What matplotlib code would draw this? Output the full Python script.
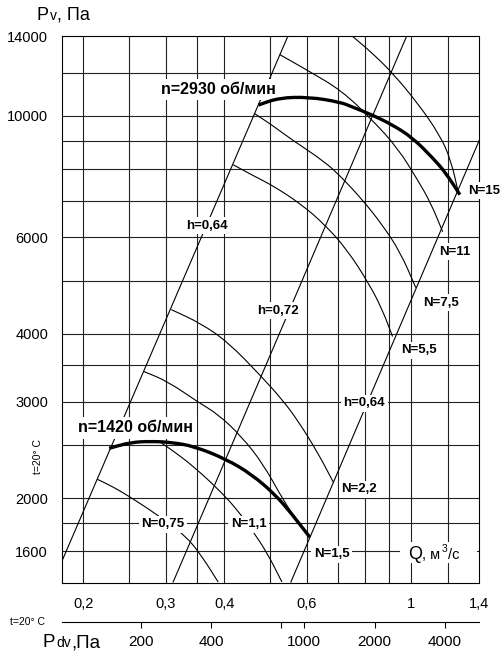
import numpy as np
import matplotlib
matplotlib.use('Agg')
import matplotlib.pyplot as plt
from matplotlib.patches import Rectangle, PathPatch
from matplotlib.path import Path
from matplotlib.ticker import NullLocator

plt.rcParams['font.family'] = ['Liberation Sans', 'DejaVu Sans']

# --- fan curves (Q in m3/s, Pv in Pa) ---
q_2930 = [0.473, 0.523, 0.606, 0.707, 0.750, 0.828, 0.915, 1.010, 1.115, 1.189, 1.274]
p_2930 = [10470, 10790, 10830, 10600, 10390, 10040, 9630, 9120, 8380, 7870, 7180]

q_1420 = [0.227, 0.252, 0.279, 0.308, 0.345, 0.404, 0.457, 0.513, 0.558, 0.609]
p_1420 = [2468, 2531, 2542, 2531, 2489, 2357, 2213, 2034, 1870, 1698]

# efficiency rays h
h_left_q, h_left_p = [0.18, 0.547], [1536, 14000]
h_mid_q, h_mid_p = [0.311, 0.981], [1406, 14000]
h_right_q, h_right_p = [0.555, 1.4], [1406, 9003]

# power lines N, kW
n075_q = [0.214, 0.232, 0.252, 0.276, 0.300, 0.331, 0.357, 0.388]
n075_p = [2167, 2096, 2009, 1910, 1816, 1705, 1574, 1406]
n11_q = [0.290, 0.323, 0.357, 0.394, 0.425, 0.457, 0.493, 0.531]
n11_p = [2542, 2386, 2222, 2051, 1910, 1756, 1594, 1406]
n15_q = [0.269, 0.303, 0.352, 0.388, 0.435, 0.485, 0.536, 0.574, 0.609]
n15_p = [3411, 3270, 2995, 2848, 2596, 2307, 1975, 1816, 1698]
n22_q = [0.308, 0.357, 0.408, 0.480, 0.531, 0.572, 0.631, 0.684]
n22_p = [4426, 4173, 3853, 3340, 3033, 2788, 2438, 2139]
n55_q = [0.418, 0.462, 0.513, 0.586, 0.656, 0.732, 0.817, 0.870, 0.915]
n55_p = [8140, 7771, 7420, 6879, 6325, 5694, 4916, 4426, 3952]
n75_q = [0.464, 0.505, 0.558, 0.656, 0.714, 0.789, 0.870, 0.952, 1.026]
n75_p = [10100, 9630, 9042, 8244, 7706, 7025, 6325, 5623, 4853]
n110_q = [0.525, 0.606, 0.714, 0.828, 0.938, 1.035, 1.104, 1.171]
n110_p = [12950, 12080, 11110, 9833, 8743, 7642, 6937, 6140]
n150_q = [0.750, 0.828, 0.915, 1.035, 1.154, 1.219, 1.268]
n150_p = [14000, 13030, 11980, 10560, 9234, 8312, 7176]

# grid and ticks
q_grid = [0.2, 0.25, 0.3, 0.35, 0.4, 0.5, 0.6, 0.7, 0.8, 0.9, 1.0, 1.2]
p_grid = [1600, 1800, 2000, 2500, 3000, 3500, 4000, 5000, 6000, 7000, 8000, 9000, 10000, 12000]
q_ticks = [0.2, 0.3, 0.4, 0.6, 1.0, 1.4]
q_labels = ['0,2', '0,3', '0,4', '0,6', '1', '1,4']
p_ticks = [1600, 2000, 3000, 4000, 6000, 10000, 14000]
p_labels = ['1600', '2000', '3000', '4000', '6000', '10000', '14000']
pdv_ticks = [200, 400, 800, 1000, 2000, 4000]
pdv_labels = ['200', '400', '', '1000', '2000', '4000']
k_dyn = 2850  # Pdv = k * Q^2

# labels: text, Q, P
curve_labels = [
    ('h=0,64', 0.3676, 6220),
    ('h=0,72', 0.520, 4352),
    ('h=0,64', 0.796, 2944),
    ('N=0,75', 0.2958, 1771),
    ('N=1,1', 0.4506, 1771),
    ('N=1,5', 0.679, 1561),
    ('N=2,2', 0.777, 2051),
    ('N=5,5', 1.04, 3679),
    ('N=7,5', 1.16, 4501),
    ('N=11', 1.244, 5577),
    ('N=15', 1.436, 7207),
]


def smooth_curve(ax, q, p, lw, z):
    # quadratic bezier through the read points (corners rounded off on the log axes)
    q = np.asarray(q, float)
    p = np.asarray(p, float)
    mq = np.sqrt(q[:-1] * q[1:])
    mp = np.sqrt(p[:-1] * p[1:])
    verts = [(q[0], p[0]), (mq[0], mp[0])]
    codes = [Path.MOVETO, Path.LINETO]
    for i in range(1, len(q) - 1):
        verts += [(q[i], p[i]), (mq[i], mp[i])]
        codes += [Path.CURVE3, Path.CURVE3]
    verts.append((q[-1], p[-1]))
    codes.append(Path.LINETO)
    ax.add_patch(PathPatch(Path(verts, codes), fc='none', ec='black', lw=lw,
                           zorder=z, capstyle='butt'))


fig = plt.figure(figsize=(5, 6.51), dpi=100)
ax = fig.add_axes([62 / 500, 1 - 583 / 651, 417 / 500, 547 / 651])
ax.set_xscale('log')
ax.set_yscale('log')
ax.set_xlim(0.18, 1.4)
ax.set_ylim(1400, 14000)

for q in q_grid:
    ax.axvline(q, color='#222222', lw=0.8, zorder=1)
for p in p_grid:
    ax.axhline(p, color='#222222', lw=0.8, zorder=1)

for qq, pp in [(h_left_q, h_left_p), (h_mid_q, h_mid_p), (h_right_q, h_right_p)]:
    ax.plot(qq, pp, color='black', lw=0.8, zorder=2)
for qq, pp in [(n075_q, n075_p), (n11_q, n11_p), (n15_q, n15_p), (n22_q, n22_p),
               (n55_q, n55_p), (n75_q, n75_p), (n110_q, n110_p), (n150_q, n150_p)]:
    smooth_curve(ax, qq, pp, 0.8, 2)

smooth_curve(ax, q_2930, p_2930, 2.4, 5)
smooth_curve(ax, q_1420, p_1420, 2.4, 5)

box = dict(boxstyle='square,pad=0.2', fc='white', ec='none')
for txt, q, p in curve_labels:
    ax.text(q, p, txt, ha='center', va='baseline', fontsize=9.5, fontweight='bold',
            bbox=box, zorder=4)
ax.text(0.388, 10970, 'n=2930 об/мин', ha='center', va='baseline', fontsize=11.5,
        fontweight='bold', bbox=box, zorder=4)
ax.text(0.2588, 2640, 'n=1420 об/мин', ha='center', va='baseline', fontsize=11.5,
        fontweight='bold', bbox=box, zorder=4)

# white patch behind the Q axis title
ax.add_patch(Rectangle(((400 - 62) / 417, 20 / 547), 77 / 417, 21 / 547,
                       transform=ax.transAxes, fc='white', ec='none', zorder=2.2))

ax.set_xticks(q_ticks)
ax.set_xticklabels(q_labels)
ax.set_yticks(p_ticks)
ax.set_yticklabels(p_labels)
ax.xaxis.set_minor_locator(NullLocator())
ax.yaxis.set_minor_locator(NullLocator())
ax.tick_params(axis='x', length=0, pad=10, labelsize=10.5)
ax.tick_params(axis='y', length=0, pad=10, labelsize=10.5)
for s in ax.spines.values():
    s.set_linewidth(0.8)

# dynamic pressure scale below
sec = ax.secondary_xaxis((583 - 622) / 547,
                         functions=(lambda q: k_dyn * np.asarray(q) ** 2,
                                    lambda p: np.sqrt(np.maximum(np.asarray(p), 1e-9) / k_dyn)))
sec.set_xticks(pdv_ticks)
sec.set_xticklabels(pdv_labels)
sec.xaxis.set_minor_locator(NullLocator())
sec.tick_params(axis='x', direction='out', length=4.5, width=0.8, pad=5, labelsize=11)
sec.spines['bottom'].set_linewidth(0.8)

# axis titles
fig.text(37 / 500, 1 - 20 / 651, 'P', fontsize=13, va='baseline')
fig.text(50 / 500, 1 - 20 / 651, 'v', fontsize=10, va='baseline')
fig.text(57 / 500, 1 - 20 / 651, ', Па', fontsize=13, va='baseline')

fig.text(43 / 500, 1 - 647 / 651, 'P', fontsize=13.5, va='baseline')
fig.text(56 / 500, 1 - 647 / 651, 'dv', fontsize=10, va='baseline')
fig.text(71 / 500, 1 - 647 / 651, ',Па', fontsize=13.5, va='baseline')

fig.text(408 / 500, 1 - 559 / 651, 'Q', fontsize=13, va='baseline')
fig.text(422 / 500, 1 - 559 / 651, ', м', fontsize=10.5, va='baseline')
fig.text(442 / 500, 1 - 552 / 651, '3', fontsize=7.5, va='baseline')
fig.text(448 / 500, 1 - 559 / 651, '/с', fontsize=10.5, va='baseline')

fig.text(10 / 500, 1 - 625 / 651, 't=20° C', fontsize=7.5, va='baseline')
fig.text(38 / 500, 1 - 457 / 651, 't=20° C', fontsize=7.5, rotation=90,
         ha='center', va='center')

fig.savefig('out.png', dpi=100)
